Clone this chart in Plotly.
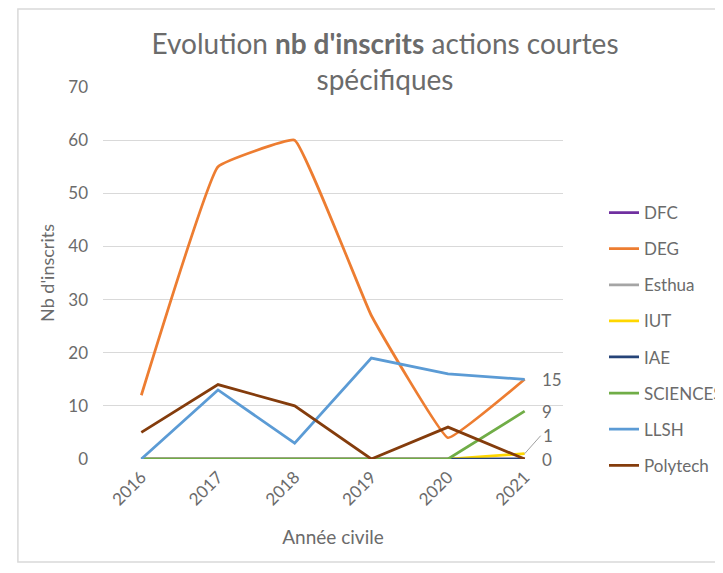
import plotly.graph_objects as go

# Data
years = ["2016", "2017", "2018", "2019", "2020", "2021"]
series_names = ["DFC", "DEG", "Esthua", "IUT", "IAE", "SCIENCES", "LLSH", "Polytech"]
dfc = [0, 0, 0, 0, 0, 0]
deg = [12, 55, 60, 27, 4, 15]
esthua = [0, 0, 0, 0, 0, 0]
iut = [0, 0, 0, 0, 0, 1]
iae = [0, 0, 0, 0, 0, 0]
sciences = [0, 0, 0, 0, 0, 9]
llsh = [0, 13, 3, 19, 16, 15]
polytech = [5, 14, 10, 0, 6, 0]

values = [dfc, deg, esthua, iut, iae, sciences, llsh, polytech]
colors = ["#7030A0", "#ED7D31", "#A5A5A5", "#FFD700", "#264478", "#70AD47", "#5B9BD5", "#843C0C"]

FONT = "Lato"
TXT = "#6b6b6b"

# the page body adds an 8px margin, so the figure is a little smaller than the window
W, H = 715, 565

fig = go.Figure()
for name, vals, col in zip(series_names, values, colors):
    line = dict(color=col, width=2.75)
    if name == "DEG":
        line.update(shape="spline", smoothing=0.25)
    fig.add_trace(go.Scatter(
        x=years, y=vals, name=name, mode="lines",
        line=line, legendgroup=name,
        hovertemplate="%{x}: %{y}<extra>" + name + "</extra>",
    ))

# data labels on the last year (LLSH, SCIENCES, Polytech)
last = len(years) - 1
for vals in (llsh, sciences, polytech):
    fig.add_annotation(x=last, y=vals[-1], xref="x", yref="y", text=str(vals[-1]),
                       showarrow=False, xanchor="left", xshift=15,
                       font=dict(family=FONT, size=17, color=TXT))
# IUT label pulled up with a leader line
fig.add_annotation(x=last, y=iut[-1], xref="x", yref="y", text=str(iut[-1]),
                   showarrow=True, arrowhead=0, arrowwidth=1, arrowcolor="#a0a0a0",
                   ax=16, ay=-18, xanchor="left",
                   font=dict(family=FONT, size=17, color=TXT))

# outer chart border
fig.add_shape(type="rect", xref="paper", yref="paper",
              x0=-0.185, x1=1.4, y0=-0.277, y1=1.21,
              line=dict(color="#d9d9d9", width=1.5), layer="below")

fig.update_layout(
    width=W, height=H,
    margin=dict(l=95, r=160, t=79, b=114),
    paper_bgcolor="white", plot_bgcolor="white",
    font=dict(family=FONT, color=TXT),
    title=dict(
        text="Evolution <b>nb d'inscrits</b> actions courtes<br>spécifiques",
        x=377 / W, xanchor="center", xref="container",
        y=1 - 46 / H, yanchor="top", yref="container",
        font=dict(family=FONT, size=28, color=TXT),
    ),
    legend=dict(
        x=596 / W, xref="container", xanchor="left",
        y=1 - 187 / H, yref="container", yanchor="top",
        font=dict(family=FONT, size=17, color=TXT),
        traceorder="grouped", tracegroupgap=11,
        bgcolor="rgba(0,0,0,0)",
    ),
    showlegend=True,
)

fig.update_xaxes(
    type="category", range=[-0.5, 5.5], automargin=False,
    showgrid=False, showline=False, zeroline=False, ticks="",
    tickangle=-45, ticklabelstandoff=4,
    tickfont=dict(family=FONT, size=17, color=TXT),
    title=dict(text="Année civile", font=dict(family=FONT, size=19, color=TXT), standoff=22),
)
fig.update_yaxes(
    range=[0, 70], dtick=10, automargin=False,
    showgrid=True, gridcolor="#d9d9d9", gridwidth=1,
    zeroline=False, showline=False, ticks="", ticklabelstandoff=14,
    tickfont=dict(family=FONT, size=17, color=TXT),
    title=dict(text="Nb d'inscrits", font=dict(family=FONT, size=18, color=TXT), standoff=8),
)

fig.write_html("out.html")
